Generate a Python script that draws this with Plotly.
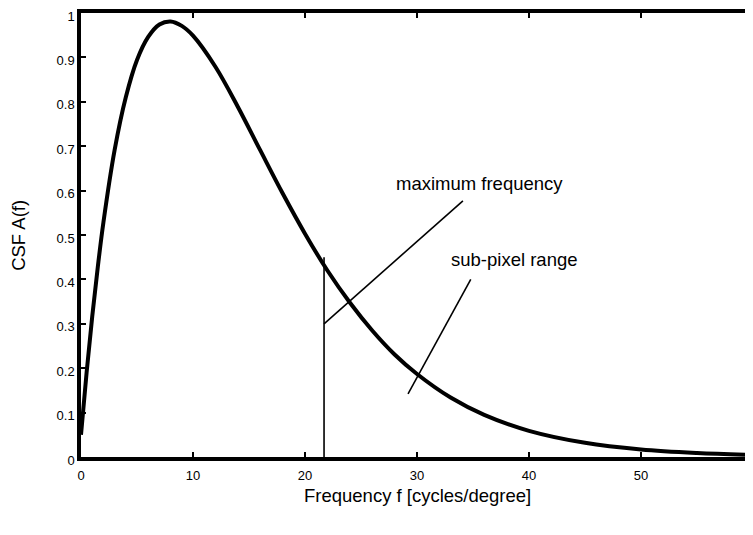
import plotly.graph_objects as go

# Curve values
freq = [0, 0.5, 1, 1.5, 2, 3, 4, 5, 6, 7, 8, 9, 10, 12, 14, 16, 18, 20, 22, 24,
        26, 28, 30, 33, 36, 40, 45, 50, 55, 60]
csf = [0.050, 0.190, 0.316, 0.428, 0.528, 0.691, 0.810, 0.894, 0.946, 0.974,
       0.981, 0.971, 0.949, 0.879, 0.789, 0.691, 0.594, 0.503, 0.420, 0.348,
       0.285, 0.231, 0.187, 0.134, 0.095, 0.059, 0.032, 0.017, 0.009, 0.0045]

# Annotation geometry (data coordinates)
max_freq_x = [21.7, 21.7]
max_freq_y = [0.0, 0.45]
pointer1_x = [21.7, 34.1]
pointer1_y = [0.30, 0.577]
pointer2_x = [29.2, 34.8]
pointer2_y = [0.142, 0.40]
labels = ["maximum frequency", "sub-pixel range"]
label_x = [35.6, 38.7]
label_y = [0.617, 0.444]

x_ticks = [0, 10, 20, 30, 40, 50, 60]
y_ticks = [0, 0.1, 0.2, 0.3, 0.4, 0.5, 0.6, 0.7, 0.8, 0.9, 1]

FONT = "Liberation Sans, Arial"
TXT = 18.5

fig = go.Figure()
fig.add_trace(go.Scatter(x=freq, y=csf, mode="lines", line=dict(color="black", width=4, shape="spline"),
                         showlegend=False, hoverinfo="skip"))
for xs, ys in [(max_freq_x, max_freq_y), (pointer1_x, pointer1_y), (pointer2_x, pointer2_y)]:
    fig.add_trace(go.Scatter(x=xs, y=ys, mode="lines", line=dict(color="black", width=1.6),
                             showlegend=False, hoverinfo="skip"))

for t, xx, yy in zip(labels, label_x, label_y):
    fig.add_annotation(x=xx, y=yy, text=t, showarrow=False,
                       font=dict(family=FONT, size=TXT, color="black"))

# axis titles as paper annotations
fig.add_annotation(xref="paper", yref="paper", x=0.5, y=-0.0856, yanchor="middle",
                   text="Frequency f [cycles/degree]", showarrow=False,
                   font=dict(family=FONT, size=TXT, color="black"))
fig.add_annotation(xref="paper", yref="paper", x=-0.094, xanchor="center", y=0.5,
                   text="CSF A(f)", textangle=-90, showarrow=False,
                   font=dict(family=FONT, size=TXT, color="black"))

axis_common = dict(showgrid=False, zeroline=False, showline=True, linecolor="black", linewidth=3.5,
                   ticks="inside", ticklen=5, tickwidth=1.5, tickcolor="black", automargin=False,
                   ticklabeloverflow="allow",
                   tickfont=dict(family=FONT, size=13, color="black"))

fig.update_xaxes(range=[0, 60], tickvals=x_ticks, mirror="ticks", ticklabelstandoff=4, **axis_common)
fig.update_yaxes(range=[0, 1], tickvals=y_ticks, mirror=False, ticklabelshift=3, **axis_common)

# the page body adds an 8px offset; size and margins compensate so the plot sits where the reference has it
fig.update_layout(width=745, height=519, margin=dict(l=73, r=0, t=5, b=70, autoexpand=False),
                  plot_bgcolor="white", paper_bgcolor="white")

fig.write_html("out.html")
